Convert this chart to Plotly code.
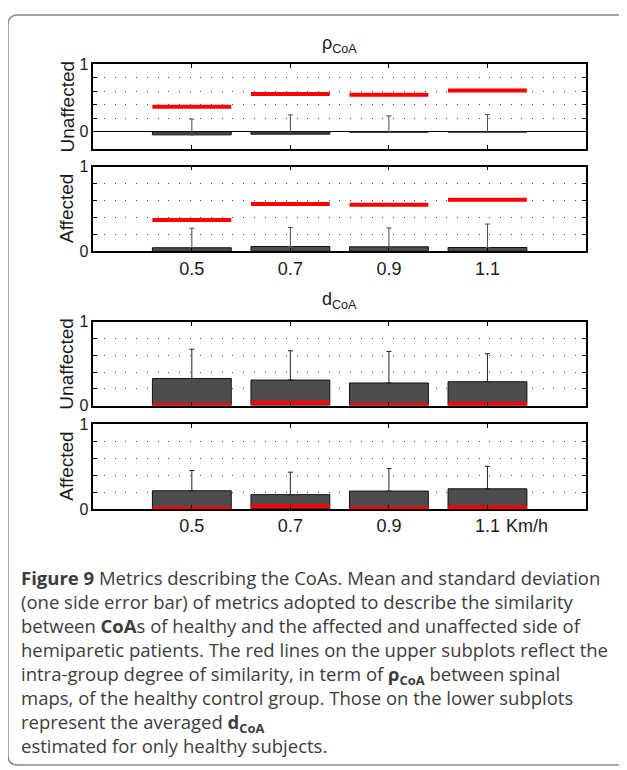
import plotly.graph_objects as go

# ---------------- data ----------------
speeds = [0.5, 0.7, 0.9, 1.1]
speed_labels = ["0.5", "0.7", "0.9", "1.1"]

rho_unaff_mean = [-0.045, -0.035, -0.005, -0.004]
rho_unaff_sd = [0.233, 0.285, 0.241, 0.259]
rho_aff_mean = [0.043, 0.058, 0.054, 0.046]
rho_aff_sd = [0.230, 0.223, 0.223, 0.277]
rho_healthy = [0.370, 0.560, 0.550, 0.610]

d_unaff_mean = [0.322, 0.304, 0.269, 0.284]
d_unaff_sd = [0.351, 0.350, 0.377, 0.335]
d_aff_mean = [0.216, 0.170, 0.212, 0.239]
d_aff_sd = [0.238, 0.265, 0.265, 0.265]
d_healthy = [0.006, 0.033, 0.007, 0.021]

y_tickvals = [0, 0.2, 0.4, 0.6, 0.8, 1.0]
y_ticktext = ["0", "", "", "", "", "1"]

caption_lines = [
    "<b>Figure 9</b> Metrics describing the CoAs. Mean and standard deviation",
    "(one side error bar) of metrics adopted to describe the similarity",
    "between <b>CoA</b>s of healthy and the affected and unaffected side of",
    "hemiparetic patients. The red lines on the upper subplots reflect the",
    "intra-group degree of similarity, in term of <b>ρ<sub>CoA</sub></b> between spinal",
    "maps, of the healthy control group. Those on the lower subplots",
    "represent the averaged <b>d<sub>CoA</sub></b>",
    "estimated for only healthy subjects.",
]

# ---------------- layout helpers ----------------
W, H = 627, 770
OFF = 8  # page offset compensation (default body margin)
def fx(x):
    return (x - OFF) / W
def fy(y):
    return 1 - (y - OFF) / H

X0, X1 = 93.3, 586.0
panels = [  # (top px, bottom px, y range, mean, sd, healthy, ylabel, show x labels)
    (57.3, 143.7, [-0.25, 1.0], rho_unaff_mean, rho_unaff_sd, rho_healthy, "Unaffected", False),
    (162.0, 248.7, [0.0, 1.0], rho_aff_mean, rho_aff_sd, rho_healthy, "Affected", True),
    (320.7, 406.3, [0.0, 1.0], d_unaff_mean, d_unaff_sd, d_healthy, "Unaffected", False),
    (425.5, 512.2, [0.0, 1.0], d_aff_mean, d_aff_sd, d_healthy, "Affected", True),
]
BAR_W = 0.16
AX_FONT = "Liberation Sans, Arial, Helvetica, sans-serif"

fig = go.Figure()
annotations = []

for i, (top, bot, yr, mean, sd, healthy, ylab, showx) in enumerate(panels):
    n = i + 1
    xa = "x" if n == 1 else f"x{n}"
    ya = "y" if n == 1 else f"y{n}"
    err_col = "#4a4a4a" if n <= 2 else "#222222"
    fig.add_trace(go.Bar(
        x=speeds, y=mean, width=BAR_W, xaxis=xa, yaxis=ya,
        marker=dict(color="#4d4d4d", line=dict(color="#111111", width=1)),
        error_y=dict(type="data", symmetric=False, array=sd,
                     arrayminus=[0] * len(sd), color=err_col,
                     thickness=1, width=2.5),
        showlegend=False,
    ))
    lx, ly = [], []
    for s, h in zip(speeds, healthy):
        lx += [s - BAR_W / 2, s + BAR_W / 2, None]
        ly += [h, h, None]
    fig.add_trace(go.Scatter(
        x=lx, y=ly, mode="lines", xaxis=xa, yaxis=ya,
        line=dict(color="#ff0000", width=4), showlegend=False,
    ))
    xkey = "xaxis" if n == 1 else f"xaxis{n}"
    ykey = "yaxis" if n == 1 else f"yaxis{n}"
    fig.update_layout({
        xkey: dict(
            domain=[fx(X0), fx(X1)], anchor=ya, range=[0.3, 1.3],
            tickvals=speeds, ticktext=speed_labels, showticklabels=showx,
            ticks="inside", ticklen=4, tickwidth=1, tickcolor="black",
            showline=True, linecolor="black", linewidth=1.5, mirror="ticks",
            showgrid=False, zeroline=False,
            tickfont=dict(family=AX_FONT, size=18, color="#1a1a1a"),
        ),
        ykey: dict(
            domain=[fy(bot), fy(top)], anchor=xa, range=yr,
            tickvals=y_tickvals, ticktext=y_ticktext,
            ticks="inside", ticklen=4, tickwidth=1, tickcolor="black",
            showline=True, linecolor="black", linewidth=1.5, mirror="ticks",
            showgrid=True, gridcolor="#444444", gridwidth=1, griddash="1px,9.7px",
            zeroline=(yr[0] < 0), zerolinecolor="black", zerolinewidth=1.2,
            tickfont=dict(family=AX_FONT, size=16, color="#1a1a1a"),
        ),
    })
    annotations.append(dict(
        text=ylab, x=fx(67), y=fy((top + bot) / 2), xref="paper", yref="paper",
        textangle=-90, showarrow=False, xanchor="center", yanchor="middle",
        font=dict(family=AX_FONT, size=19, color="#1a1a1a"),
    ))

# subplot group titles
annotations.append(dict(
    text="ρ<sub>CoA</sub>", x=fx(339), y=fy(37), xref="paper", yref="paper",
    showarrow=False, xanchor="center", yanchor="middle",
    font=dict(family=AX_FONT, size=18, color="#1a1a1a"),
))
annotations.append(dict(
    text="d<sub>CoA</sub>", x=fx(339), y=fy(299), xref="paper", yref="paper",
    showarrow=False, xanchor="center", yanchor="middle",
    font=dict(family=AX_FONT, size=18, color="#1a1a1a"),
))
# unit after last tick label
annotations.append(dict(
    text="Km/h", x=fx(504), y=fy(530), xref="paper", yref="paper",
    showarrow=False, xanchor="left", yanchor="middle",
    font=dict(family=AX_FONT, size=18, color="#1a1a1a"),
))

# caption (one block, plotly line spacing 1.3 em)
annotations.append(dict(
    text="<br>".join(caption_lines), x=fx(19), y=fy(567), xref="paper", yref="paper",
    showarrow=False, xanchor="left", yanchor="top", align="left",
    font=dict(family="Open Sans, Noto Sans, sans-serif", size=18.5, color="#3c3c3c"),
))

fig.update_layout(
    width=W, height=H, margin=dict(l=0, r=0, t=0, b=0),
    paper_bgcolor="white", plot_bgcolor="white",
    annotations=annotations, barmode="overlay",
    shapes=[dict(
        type="path", xref="paper", yref="paper",
        path=(f"M {fx(8)},{fy(17)} Q {fx(8)},{fy(7)} {fx(18)},{fy(7)} "
              f"L {fx(680)},{fy(7)} L {fx(680)},{fy(774)} L {fx(18)},{fy(774)} "
              f"Q {fx(8)},{fy(774)} {fx(8)},{fy(764)} Z"),
        line=dict(color="#8a8a8a", width=1.5), layer="below",
    )],
)

fig.write_html("out.html")
